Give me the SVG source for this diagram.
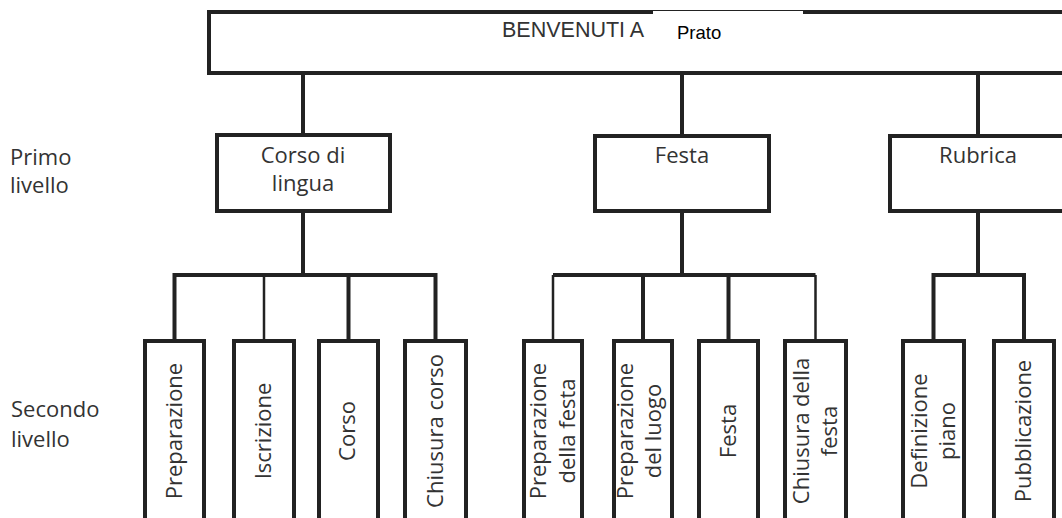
<svg xmlns="http://www.w3.org/2000/svg" width="1062" height="518" viewBox="0 0 1062 518">
<style>
.box{fill:#fff;stroke:#222;stroke-width:4}
.t{font-family:"Open Sans","DejaVu Sans",sans-serif;font-size:22px;fill:#333}
.tm{text-anchor:middle}
.c{fill:none;stroke:#222;stroke-width:4}
.thin{stroke-width:2.5}
</style>
<rect width="1062" height="518" fill="#fff"/>
<g id="connectors">
<path class="c" d="M303 74V135M682 74V136M978 74V136"/>
<path class="c" d="M303 213V275M682 213V275M978 213V275"/>
<path class="c" d="M174.5 341V275H435.5V341M348.5 275V341"/>
<path class="c thin" d="M264 275V341"/>
<path class="c" d="M553 275H815.5M643 275V341M728.5 275V341"/>
<path class="c thin" d="M553 275V341M815.5 275V341"/>
<path class="c" d="M933.5 341V275H1024V341"/>
</g>
<g id="header">
<rect class="box" x="209" y="12" width="900" height="61"/>
<rect x="653" y="10" width="150" height="38" fill="#fff"/>
<line x1="653" y1="10.5" x2="803" y2="10.5" stroke="#222" stroke-width="1"/>
<text x="502" y="37" font-family="Liberation Sans, Arial, sans-serif" font-size="21.5" fill="#333">BENVENUTI A</text>
<text x="677" y="39" font-family="Liberation Sans, Arial, sans-serif" font-size="18.5" fill="#000">Prato</text>
</g>
<g id="labels">
<text class="t" x="10" y="165">Primo</text>
<text class="t" x="10" y="193">livello</text>
<text class="t" x="11" y="417">Secondo</text>
<text class="t" x="11" y="447">livello</text>
</g>
<g id="corso-di-lingua">
<rect class="box" x="217" y="135" width="173" height="76"/>
<text class="t tm" x="303" y="163">Corso di</text>
<text class="t tm" x="303" y="191">lingua</text>
</g>
<g id="festa-l1">
<rect class="box" x="595" y="136" width="174" height="75"/>
<text class="t tm" x="682" y="163">Festa</text>
</g>
<g id="rubrica">
<rect class="box" x="890" y="136" width="200" height="75"/>
<text class="t tm" x="978" y="163">Rubrica</text>
</g>
<g id="preparazione">
<rect class="box" x="145" y="341" width="59" height="200"/>
<text class="t tm" transform="translate(181.5,431) rotate(-90)">Preparazione</text>
</g>
<g id="iscrizione">
<rect class="box" x="234" y="341" width="60" height="200"/>
<text class="t tm" transform="translate(271,431) rotate(-90)">Iscrizione</text>
</g>
<g id="corso">
<rect class="box" x="319" y="341" width="59" height="200"/>
<text class="t tm" transform="translate(355,431) rotate(-90)">Corso</text>
</g>
<g id="chiusura-corso">
<rect class="box" x="405" y="341" width="61" height="200"/>
<text class="t tm" transform="translate(442.5,431) rotate(-90)">Chiusura corso</text>
</g>
<g id="preparazione-festa">
<rect class="box" x="524" y="341" width="58" height="200"/>
<text class="t tm" transform="translate(546,431) rotate(-90)">Preparazione</text>
<text class="t tm" transform="translate(575,431) rotate(-90)">della festa</text>
</g>
<g id="preparazione-luogo">
<rect class="box" x="614" y="341" width="58" height="200"/>
<text class="t tm" transform="translate(633,431) rotate(-90)">Preparazione</text>
<text class="t tm" transform="translate(661,431) rotate(-90)">del luogo</text>
</g>
<g id="festa-l2">
<rect class="box" x="699" y="341" width="59" height="200"/>
<text class="t tm" transform="translate(736,431) rotate(-90)">Festa</text>
</g>
<g id="chiusura-festa">
<rect class="box" x="785" y="341" width="61" height="200"/>
<text class="t tm" transform="translate(809,431) rotate(-90)">Chiusura della</text>
<text class="t tm" transform="translate(837,431) rotate(-90)">festa</text>
</g>
<g id="definizione-piano">
<rect class="box" x="903" y="341" width="61" height="200"/>
<text class="t tm" transform="translate(927,431) rotate(-90)">Definizione</text>
<text class="t tm" transform="translate(955,431) rotate(-90)">piano</text>
</g>
<g id="pubblicazione">
<rect class="box" x="994" y="341" width="60" height="200"/>
<text class="t tm" transform="translate(1031,431) rotate(-90)">Pubblicazione</text>
</g>
</svg>
